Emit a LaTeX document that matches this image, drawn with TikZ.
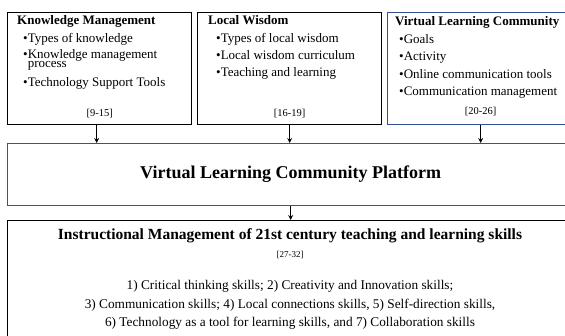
\documentclass[tikz,border=0pt]{standalone}
\usepackage{fontspec}
\setmainfont{Liberation Serif}
\usepackage{xcolor}
\usetikzlibrary{positioning, calc, arrows.meta}

\definecolor{vlcblue}{RGB}{47,82,143}
\definecolor{platgray}{RGB}{68,84,106}

\tikzset{
  box/.style={draw, line width=1.3pt, inner sep=0pt, anchor=north west},
  topbox/.style={box, minimum width=184pt, minimum height=112pt},
  boxtext/.style={anchor=base west, align=left, inner sep=0pt, font=\fontsize{13}{18}\selectfont},
  reftext/.style={anchor=base, inner sep=0pt, font=\fontsize{10.5}{12}\selectfont},
  flow/.style={-{Stealth[length=5pt,width=5pt]}, line width=1.1pt},
}

\begin{document}
\begin{tikzpicture}[x=1pt, y=-1pt]
    \useasboundingbox (0,0) rectangle (565,336);

    % --- Top Row: three source boxes ---
    \node[topbox] (km) at (7,12) {};
    \node[topbox] (lw) at (197,12) {};
    \node[topbox, draw=vlcblue, minimum width=186pt] (vlc) at (387,12) {};

    % Knowledge Management (placed by the baseline of its last line)
    \node[boxtext] (kmtext) at (17,87) {\textbf{Knowledge Management}\\
        \hspace*{6pt}\textbullet Types of knowledge\\[-2pt]
        \hspace*{6pt}\textbullet Knowledge management\\[-9pt]
        \hspace*{6pt}\phantom{\textbullet}process\\[1pt]
        \hspace*{6pt}\textbullet Technology Support Tools};
    \node[reftext, yshift=9pt] (kmref) at (km.south) {[9-15]};

    % Local Wisdom
    \node[boxtext] (lwtext) at (208,77) {\textbf{Local Wisdom}\\
        \hspace*{8pt}\textbullet Types of local wisdom\\[-1pt]
        \hspace*{8pt}\textbullet Local wisdom curriculum\\[-1pt]
        \hspace*{8pt}\textbullet Teaching and learning};
    \node[reftext, yshift=9pt] (lwref) at (lw.south) {[16-19]};

    % Virtual Learning Community
    \node[boxtext] (vlctext) at (395,96) {\textbf{Virtual Learning Community}\\
        \hspace*{4pt}\textbullet Goals\\[-0.5pt]
        \hspace*{4pt}\textbullet Activity\\[-0.5pt]
        \hspace*{4pt}\textbullet Online communication tools\\[-0.5pt]
        \hspace*{4pt}\textbullet Communication management};
    \node[reftext, yshift=11pt] (vlcref) at (vlc.south) {[20-26]};

    % --- Middle: platform ---
    \node[box, draw=platgray, minimum width=566pt, minimum height=62pt,
          font=\fontsize{18}{20}\selectfont\bfseries] (platform) at (7,143)
          {Virtual Learning Community Platform};

    % --- Bottom: instructional management ---
    \node[box, minimum width=566pt, minimum height=125pt] (im) at (7,220) {};
    \node[anchor=base, inner sep=0pt, font=\fontsize{15.5}{17}\selectfont\bfseries] (imtitle) at (290,240)
        {Instructional Management of 21st century teaching and learning skills};
    \node[anchor=base, inner sep=0pt, font=\fontsize{9}{10}\selectfont] (imref) at (290,258) {[27-32]};
    \node[anchor=base, inner sep=0pt, align=center, font=\fontsize{13.3}{18.5}\selectfont] (imskills) at (290,327)
        {1) Critical thinking skills; 2) Creativity and Innovation skills;\\
         3) Communication skills; 4) Local connections skills, 5) Self-direction skills,\\
         6) Technology as a tool for learning skills, and 7) Collaboration skills};

    % --- Arrows ---
    \draw[flow] ([xshift=-3pt]km.south) -- ([xshift=-3pt]km.south |- platform.north);
    \draw[flow] (lw.south) -- (lw.south |- platform.north);
    \draw[flow] (vlc.south) -- (vlc.south |- platform.north);
    \draw[flow] (platform.south) -- (im.north);

\end{tikzpicture}
\end{document}
